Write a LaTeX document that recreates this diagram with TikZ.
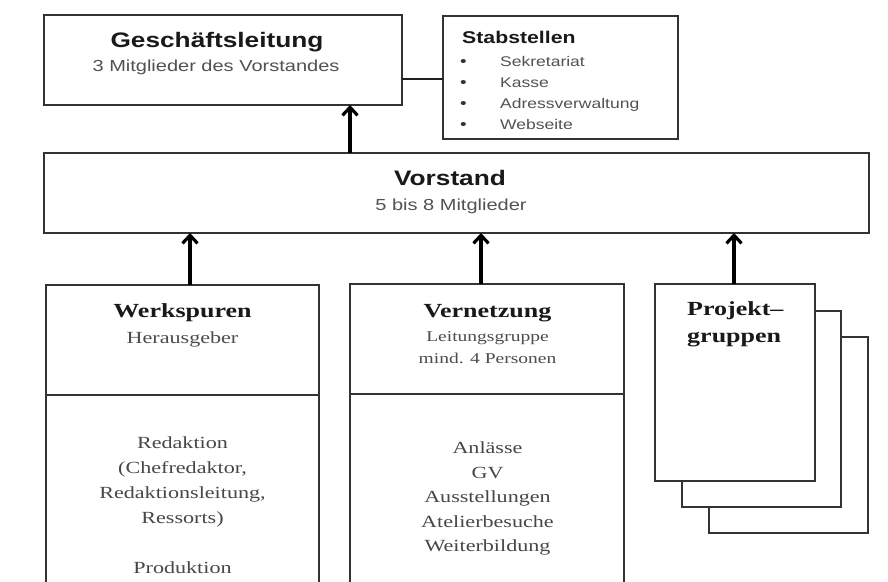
\documentclass[tikz,border=0pt]{standalone}
\usepackage{fontspec}
\setmainfont{Liberation Serif}[FakeStretch=1.3]
\newfontfamily\hsans{Liberation Sans}[FakeStretch=1.25]
\usetikzlibrary{arrows.meta}
\begin{document}
\begin{tikzpicture}[x=1pt,y=-1pt,
  box/.style={draw=black!80, line width=2pt, fill=white, rectangle, inner sep=0pt, outer sep=0pt, anchor=north west},
  arr/.style={-{Straight Barb[length=8pt,width=15pt,line width=3.2pt]}, line width=3.4pt, black},
  link/.style={line width=2.4pt, black!88},
  ttl/.style={font=\hsans\bfseries\fontsize{21}{24}\selectfont, text=black!90, inner sep=0pt, anchor=base},
  sub/.style={font=\hsans\fontsize{16}{19}\selectfont, text=black!68, inner sep=0pt, anchor=base},
  sttl/.style={font=\hsans\bfseries\fontsize{17}{20}\selectfont, text=black!90, inner sep=0pt, anchor=base west},
  itm/.style={font=\hsans\fontsize{14}{17}\selectfont, text=black!68, inner sep=0pt, anchor=base west},
  bul/.style={font=\hsans\fontsize{15}{17}\selectfont, text=black!80, inner sep=0pt, anchor=base west},
  rttl/.style={font=\bfseries\fontsize{20}{27}\selectfont, text=black!90, inner sep=0pt, anchor=base},
  rsub/.style={font=\fontsize{17}{20}\selectfont, text=black!70, inner sep=0pt, anchor=base},
  rsmall/.style={font=\fontsize{15}{18}\selectfont, text=black!70, inner sep=0pt, anchor=base},
  rbody/.style={font=\fontsize{17}{25}\selectfont, text=black!72, inner sep=0pt, anchor=north, align=center},
  rbodyb/.style={font=\fontsize{17}{24.5}\selectfont, text=black!72, inner sep=0pt, anchor=north, align=center}
]
\useasboundingbox (0,0) rectangle (888,581);
\clip (0,0) rectangle (888,581);

% top row
\node[box, minimum width=358pt, minimum height=90pt] (gl) at (44,15) {};
\node[box, minimum width=235pt, minimum height=123pt] (st) at (443,16) {};
\node[ttl] (glt) at (217,47) {Geschäftsleitung};
\node[sub] (gls) at (216,71) {3 Mitglieder des Vorstandes};
\node[sttl] (stt) at (462,43) {Stabstellen};
\foreach \n/\yy/\t in {1/66/Sekretariat, 2/87/Kasse, 3/108/Adressverwaltung, 4/129/Webseite}{
  \node[bul] (b\n) at (460,\yy) {•};
  \node[itm] (i\n) at (500,\yy) {\t};
}
\coordinate (lk) at (0,79);
\draw[link] (gl.east |- lk) -- (st.west |- lk);

% Vorstand
\node[box, minimum width=825pt, minimum height=80pt] (vs) at (44,153) {};
\node[ttl] (vst) at (450,185) {Vorstand};
\node[sub] (vss) at (451,210) {5 bis 8 Mitglieder};
\coordinate (a0) at (350,0);
\draw[arr] (vs.north -| a0) -- (gl.south -| a0);

% Werkspuren
\node[box, minimum width=273pt, minimum height=110pt] (wk) at (46,285) {};
\node[box, minimum width=273pt, minimum height=230pt] (wkl) at (46,395) {};
\node[rttl] (wkt) at (182.5,317) {Werkspuren};
\node[rsub] (wks) at (182.5,343) {Herausgeber};
\node[rbody] (wkb) at (182.5,436.5) {Redaktion\\(Chefredaktor,\\Redaktionsleitung,\\Ressorts)\\[25pt]Produktion};

% Vernetzung
\node[box, minimum width=274pt, minimum height=110pt] (vn) at (350,284) {};
\node[box, minimum width=274pt, minimum height=230pt] (vnl) at (350,394) {};
\node[rttl] (vnt) at (487.5,317) {Vernetzung};
\node[rsmall] (vns1) at (487.5,341) {Leitungsgruppe};
\node[rsmall] (vns2) at (487.5,363) {mind. 4 Personen};
\node[rbodyb] (vnb) at (487.5,441.5) {Anlässe\\GV\\Ausstellungen\\Atelierbesuche\\Weiterbildung};

% Projektgruppen
\node[box, minimum width=159pt, minimum height=196pt] (pg3) at (709,337) {};
\node[box, minimum width=159pt, minimum height=196pt] (pg2) at (682,311) {};
\node[box, minimum width=160pt, minimum height=197pt] (pg) at (655,284) {};
\node[rttl, anchor=base west] (pgt1) at (687,315) {Projekt–};
\node[rttl, anchor=base west] (pgt2) at (687,342) {gruppen};

% arrows up to Vorstand
\coordinate (a1) at (190,0);
\coordinate (a2) at (481,0);
\coordinate (a3) at (734,0);
\draw[arr] (wk.north -| a1) -- (vs.south -| a1);
\draw[arr] (vn.north -| a2) -- (vs.south -| a2);
\draw[arr] (pg.north -| a3) -- (vs.south -| a3);
\end{tikzpicture}
\end{document}
